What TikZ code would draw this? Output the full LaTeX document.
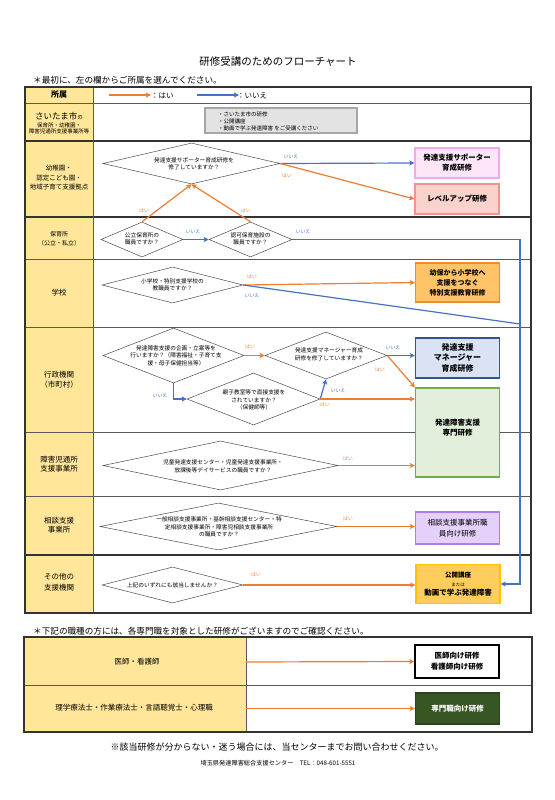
\documentclass[tikz,border=0pt]{standalone}
\usepackage{fontspec}
\setmainfont{Noto Sans CJK JP}
\usetikzlibrary{arrows.meta,shapes.geometric}
\definecolor{ora}{HTML}{ED7D31}
\definecolor{blu}{HTML}{4472C4}
\definecolor{yel}{HTML}{FFE699}
\definecolor{gridc}{HTML}{595959}
\definecolor{pinkf}{HTML}{FDE6F8}
\definecolor{pinkd}{HTML}{F2A8EC}
\definecolor{salf}{HTML}{FAD2CC}
\definecolor{sald}{HTML}{F0948C}
\definecolor{orgf}{HTML}{FFC468}
\definecolor{orgd}{HTML}{F08C2C}
\definecolor{mgrf}{HTML}{DAE3F3}
\definecolor{mgrd}{HTML}{2F5597}
\definecolor{grnf}{HTML}{E2EFDA}
\definecolor{grnd}{HTML}{70AD47}
\definecolor{purf}{HTML}{E4D0FA}
\definecolor{purd}{HTML}{B07CEB}
\definecolor{pubf}{HTML}{FFCD5C}
\definecolor{pubd}{HTML}{FFC000}
\definecolor{prof}{HTML}{375623}
\definecolor{prod}{HTML}{2B4420}
\definecolor{grayf}{HTML}{E3E3E3}
\definecolor{grayd}{HTML}{A6A6A6}
\begin{document}
\begin{tikzpicture}[x=1pt,y=-1pt,
  yes/.style={draw=ora,line width=1.2pt,-{Stealth[length=5pt,width=5pt,inset=1pt]}},
  yesl/.style={draw=ora,line width=1.2pt},
  no/.style={draw=blu,line width=1.2pt,-{Stealth[length=5pt,width=5pt,inset=1pt]}},
  nol/.style={draw=blu,line width=1.2pt},
  yt/.style={text=ora,font=\fontsize{4.8}{5.5}\selectfont,inner sep=0pt},
  nt/.style={text=blu,font=\fontsize{4.8}{5.5}\selectfont,inner sep=0pt},
  dia/.style={diamond,draw=black!70,line width=0.5pt,inner sep=0pt,fill=white},
  dtext/.style={font=\fontsize{5.7}{7.5}\selectfont,align=center,inner sep=0pt},
  lab/.style={align=center,inner sep=0pt,font=\fontsize{7.5}{10}\selectfont},
  rbox/.style={line width=1.2pt,minimum width=84pt,align=center,inner sep=0pt,
    font=\bfseries\fontsize{7.5}{10}\selectfont},
  thin/.style={draw=gridc,line width=0.7pt},
  thick/.style={draw=black!80,line width=1.6pt}
]
\useasboundingbox (0,0) rectangle (554,800);
\fill[white] (0,0) rectangle (554,800);

% title
\node[font=\fontsize{10.5}{12}\selectfont] (title) at (278,62) {研修受講のためのフローチャート};
\node[anchor=west,font=\fontsize{8.6}{10}\selectfont,inner sep=0pt] (inst1) at (33,80) {＊最初に、左の欄からご所属を選んでください。};

% main table
\fill[yel] (25,87) rectangle (93,613);
\draw[thin] (25,103) -- (531,103);
\draw[thin] (25,259) -- (531,259);
\draw[thin] (25,327) -- (531,327);
\draw[thin] (25,432) -- (531,432);
\draw[thin] (25,496) -- (531,496);
\draw[thick] (25,141) -- (531,141);
\draw[thick] (25,217) -- (531,217);
\draw[thick] (25,555) -- (531,555);
\draw[thin] (93,87) -- (93,613);
\draw[draw=black!80,line width=1.1pt] (25,87) rectangle (531,613);

% left labels
\node[lab,font=\bfseries\fontsize{8}{10}\selectfont] (l0) at (59,95) {所属};
\node[lab,font=\fontsize{5.5}{6.5}\selectfont] (l1) at (59,123) {{\fontsize{8.5}{6.5}\selectfont さいたま市}の\\[1.5pt]保育所・幼稚園・\\障害児通所支援事業所等};
\node[lab,font=\fontsize{6.5}{9.5}\selectfont] (l2) at (59,178) {幼稚園・\\認定こども園・\\地域子育て支援拠点};
\node[lab,font=\fontsize{6}{9}\selectfont] (l3) at (59,238.5) {保育所\\（公立・私立）};
\node[lab] (l4) at (59,293) {学校};
\node[lab] (l5) at (59,380) {行政機関\\（市町村）};
\node[lab,font=\fontsize{7.5}{8.5}\selectfont] (l6) at (59,464) {障害児通所\\支援事業所};
\node[lab,font=\fontsize{7.5}{8.5}\selectfont] (l7) at (59,525) {相談支援\\事業所};
\node[lab,font=\fontsize{7.5}{11}\selectfont] (l8) at (59,582) {その他の\\支援機関};

% legend
\coordinate (lo1) at (109,95);
\coordinate (lo2) at (151,95);
\coordinate (lb1) at (197,95);
\coordinate (lb2) at (239,95);
\draw[yes] (lo1) -- (lo2);
\draw[no] (lb1) -- (lb2);
\node[anchor=west,inner sep=0pt,font=\fontsize{7.5}{9}\selectfont] (lyes) at (151,95.5) {：はい};
\node[anchor=west,inner sep=0pt,font=\fontsize{7.5}{9}\selectfont] (lno) at (237,95.5) {：いいえ};

% saitama box
\node[fill=grayf,draw=grayd,line width=1.3pt,minimum width=152pt,minimum height=25pt,inner sep=0pt] (sbox) at (281,120.5) {};
\node[anchor=west,align=left,inner sep=0pt,font=\fontsize{5.5}{7}\selectfont] (sboxt) at (218,121) {・さいたま市の研修\\・公開講座\\・動画で学ぶ発達障害 をご受講ください};

% diamonds
\node[dia,minimum width=177pt,minimum height=41pt] (d1) at (191.5,163.5) {};
\node[dtext] (d1t) at (194,164) {発達支援サポーター育成研修を\\修了していますか？};
\node[dia,minimum width=82pt,minimum height=35pt] (dA) at (142,239.5) {};
\node[dtext] (dAt) at (142,239) {公立保育所の\\職員ですか？};
\node[dia,minimum width=83pt,minimum height=35pt] (dB) at (250.5,239.5) {};
\node[dtext] (dBt) at (250.5,239) {認可保育施設の\\職員ですか？};
\node[dia,minimum width=141pt,minimum height=36pt] (dS) at (172.5,285) {};
\node[dtext] (dSt) at (172.5,285) {小学校・特別支援学校の\\教職員ですか？};
\node[dia,minimum width=141pt,minimum height=55pt] (dC) at (173.5,355.5) {};
\node[dtext] (dCt) at (176,355.5) {発達障害支援の企画・立案等を\\行いますか？（障害福祉・子育て支\\援・母子保健担当等）};
\node[dia,minimum width=122pt,minimum height=47pt] (dD) at (326,355.5) {};
\node[dtext] (dDt) at (329,354.5) {発達支援マネージャー育成\\研修を修了していますか？};
\node[dia,minimum width=133pt,minimum height=52pt] (dE) at (253.5,399) {};
\node[dtext] (dEt) at (254,400) {親子教室等で直接支援を\\されていますか？\\（保健師等）};
\node[dia,minimum width=235pt,minimum height=49pt] (dF) at (220.5,465.5) {};
\node[dtext] (dFt) at (223,466.5) {児童発達支援センター・児童発達支援事業所・\\放課後等デイサービスの職員ですか？};
\node[dia,minimum width=237pt,minimum height=47pt] (dG) at (218.5,526.5) {};
\node[dtext] (dGt) at (219,527) {一般相談支援事業所・基幹相談支援センター・特\\定相談支援事業所・障害児相談支援事業所\\の職員ですか？};
\node[dia,minimum width=141pt,minimum height=36pt] (dH) at (172.5,585) {};
\node[dtext] (dHt) at (172.5,585) {上記のいずれにも該当しませんか？};

% result boxes
\node[rbox,fill=pinkf,draw=pinkd,minimum height=30pt] (sup) at (457,163) {発達支援サポーター\\育成研修};
\node[rbox,fill=salf,draw=sald,minimum height=30pt] (lvl) at (457,199) {レベルアップ研修};
\node[rbox,fill=orgf,draw=orgd,minimum height=39pt,font=\bfseries\fontsize{7}{10}\selectfont] (sch) at (457.5,282.5) {幼保から小学校へ\\支援をつなぐ\\特別支援教育研修};
\node[rbox,fill=mgrf,draw=mgrd,minimum height=40pt,font=\bfseries\fontsize{8}{10.5}\selectfont] (mgr) at (457.5,358) {発達支援\\マネージャー\\育成研修};
\node[rbox,fill=grnf,draw=grnd,minimum height=89pt,font=\bfseries\fontsize{7.5}{10}\selectfont] (spec) at (457.5,432.5) {};
\node[inner sep=0pt,align=center,font=\bfseries\fontsize{7.5}{10}\selectfont] (spect) at (457.5,428) {発達障害支援\\専門研修};
\node[rbox,fill=purf,draw=purd,minimum height=32pt,font=\fontsize{7.5}{11}\selectfont] (cons) at (457.5,528) {相談支援事業所職\\員向け研修};
\node[rbox,fill=pubf,draw=pubd,minimum height=39pt] (pub) at (458,584) {{\fontsize{6.5}{8}\selectfont 公開講座}\\[-1pt]{\fontsize{4.5}{6}\selectfont\mdseries または}\\[-0.5pt]{\fontsize{7.5}{9}\selectfont 動画で学ぶ発達障害}};

% connectors
\draw[no] (d1.east) -- (sup.west);
\draw[yes] (d1.east) -- (lvl.west);
\draw[yes] (dA.north) -- (d1.south);
\draw[yes] (dB.north) -- (d1.south);
\draw[no] (dA.east) -- (dB.west);
\coordinate (bc1) at (520,239.5);
\coordinate (bc2) at (520,324);
\draw[no] (dB.east) -- (bc1) |- (pub.east);
\draw[yes] (dS.east) -- (sch.west);
\draw[nol] (dS.east) -- (bc2);
\draw[yes] (dC.east) -- (dD.west);
\draw[no] (dC.south) |- (dE.west);
\draw[no] (dD.east) -- (dD.east -| mgr.west);
\draw[yes] (dD.east) -- (spec.north west);
\draw[no] (dE.east) -- (dD.south);
\draw[yes] (dE.east) -- (dE.east -| spec.west);
\draw[yes] (dF.east) -- (dF.east -| spec.west);
\draw[yes] (dG.east) -- (dG.east -| cons.west);
\draw[yes] (dH.east) -- (dH.east -| pub.west);

% yes/no labels
\node[nt] (n1) at (291,157) {いいえ};
\node[yt] (y1) at (287,176) {はい};
\node[yt] (y2) at (144,211) {はい};
\node[yt] (y3) at (246,211) {はい};
\node[nt] (n2) at (193,232) {いいえ};
\node[nt] (n3) at (303,232) {いいえ};
\node[yt] (y4) at (252,277) {はい};
\node[nt] (n4) at (252,296) {いいえ};
\node[yt] (y5) at (250,347) {はい};
\node[nt] (n5) at (160,396) {いいえ};
\node[nt] (n6) at (393,348) {いいえ};
\node[yt] (y6) at (380,370) {はい};
\node[nt] (n7) at (338,391) {いいえ};
\node[yt] (y7) at (325,405) {はい};
\node[yt] (y8) at (348,459) {はい};
\node[yt] (y9) at (348,519) {はい};
\node[yt] (y10) at (256,575) {はい};

% lower table
\node[anchor=west,font=\fontsize{8.6}{10}\selectfont,inner sep=0pt] (inst2) at (33,631) {＊下記の職種の方には、各専門職を対象とした研修がございますのでご確認ください。};
\fill[yel] (24,637) rectangle (246,732);
\draw[thin] (24,685) -- (532,685);
\draw[thin] (246,637) -- (246,732);
\draw[draw=black!80,line width=1.1pt] (24,637) rectangle (532,732);
\node[lab] (m1) at (137,662) {医師・看護師};
\node[lab] (m2) at (134,708) {理学療法士・作業療法士・言語聴覚士・心理職};
\node[rbox,fill=white,draw=black,line width=1.4pt,minimum height=33pt,font=\bfseries\fontsize{7.5}{11}\selectfont] (doc) at (457,661.5) {医師向け研修\\看護師向け研修};
\node[rbox,fill=prof,draw=prod,text=white,minimum height=31pt] (pro) at (457.5,708.5) {専門職向け研修};
\coordinate (b1) at (246,662);
\coordinate (b2) at (246,708.5);
\draw[yes] (b1) -- (doc.west);
\draw[yes] (b2) -- (pro.west);

% footer
\node[font=\fontsize{9}{10}\selectfont] (foot1) at (277,747) {※該当研修が分からない・迷う場合には、当センターまでお問い合わせください。};
\node[font=\fontsize{6.2}{7}\selectfont] (foot2) at (278,763) {埼玉県発達障害総合支援センター　TEL：048-601-5551};
\end{tikzpicture}
\end{document}
